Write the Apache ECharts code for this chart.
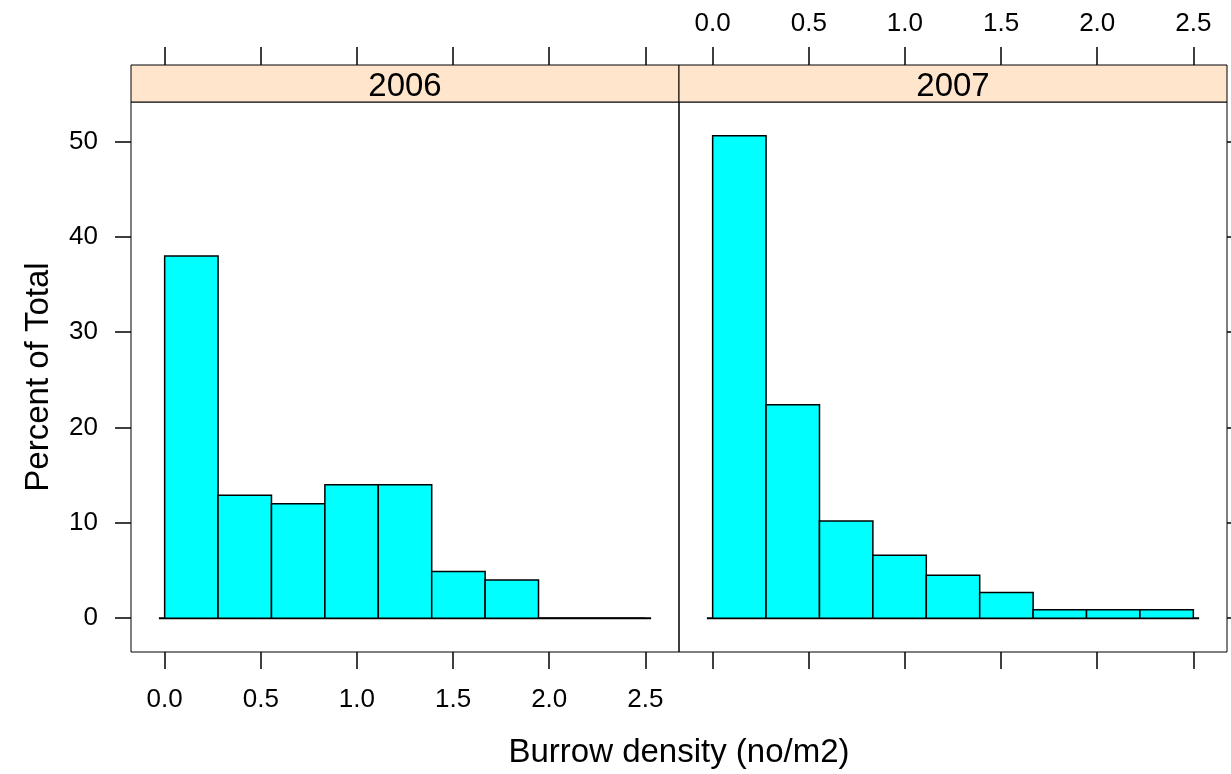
<!DOCTYPE html>
<html>
<head>
<meta charset="utf-8">
<script src="https://cdn.jsdelivr.net/npm/echarts@6/dist/echarts.min.js"></script>
<style>html,body{margin:0;padding:0;background:#fff;}#chart{width:1231px;height:774px;}</style>
</head>
<body>
<div id="chart"></div>
<script>
// ---- data ----
const panels = ['2006', '2007'];
const binEdges = [0, 0.2778, 0.5556, 0.8333, 1.1111, 1.3889, 1.6667, 1.9444, 2.2222, 2.5];
const pct2006 = [38.0, 12.9, 12.0, 14.0, 14.0, 4.9, 4.0, 0, 0];
const pct2007 = [50.6, 22.4, 10.2, 6.6, 4.5, 2.7, 0.9, 0.9, 0.9];
const xTicks = [0, 0.5, 1.0, 1.5, 2.0, 2.5];
const yTicks = [0, 10, 20, 30, 40, 50];
const baseline = [-0.03, 2.53];
const xLabel = 'Burrow density (no/m2)';
const yLabel = 'Percent of Total';

// ---- layout ----
const FONT = '"Liberation Sans", Arial, Helvetica, sans-serif';
const P = [{left: 131, top: 102, width: 548, height: 550}, {left: 679, top: 102, width: 548, height: 550}];
const stripH = 37;
const xMin = -0.175, xMax = 2.675, yMin = -3.54, yMax = 54.14;

function binData(vals) {
  return vals.map((v, i) => [binEdges[i], binEdges[i + 1], v]);
}
function renderItem(params, api) {
  const x0 = api.value(0), x1 = api.value(1), y = api.value(2);
  const p0 = api.coord([x0, 0]);
  const p1 = api.coord([x1, y]);
  return {
    type: 'rect',
    shape: {x: p0[0], y: p1[1], width: p1[0] - p0[0], height: p0[1] - p1[1]},
    style: {fill: '#00FFFF', stroke: '#000', lineWidth: 1.5}
  };
}
const tickLbl = {fontFamily: FONT, fontSize: 26, color: '#000'};

const grids = P.map(p => ({left: p.left, top: p.top, width: p.width, height: p.height, show: true, borderColor: '#000', borderWidth: 1, backgroundColor: 'transparent'}));

const xAxes = [];
const yAxes = [];
P.forEach((p, i) => {
  // bottom
  xAxes.push({
    type: 'value', gridIndex: i, position: 'bottom', min: xMin, max: xMax,
    axisLine: {show: false, onZero: false}, splitLine: {show: false},
    axisTick: {show: true, inside: false, length: 17, customValues: xTicks, lineStyle: {color: '#000', width: 1.5}},
    axisLabel: Object.assign({show: i === 0, margin: 35, customValues: xTicks, formatter: v => v.toFixed(1)}, tickLbl)
  });
  // top (above strip)
  xAxes.push({
    type: 'value', gridIndex: i, position: 'top', offset: stripH, min: xMin, max: xMax,
    axisLine: {show: false, onZero: false}, splitLine: {show: false},
    axisTick: {show: true, inside: false, length: 18, customValues: xTicks, lineStyle: {color: '#000', width: 1.5}},
    axisLabel: Object.assign({show: i === 1, margin: 28, customValues: xTicks, formatter: v => v.toFixed(1)}, tickLbl)
  });
  yAxes.push({
    type: 'value', gridIndex: i, position: i === 0 ? 'left' : 'right', min: yMin, max: yMax,
    axisLine: {show: false, onZero: false}, splitLine: {show: false},
    axisTick: {show: true, inside: false, length: 16, customValues: yTicks, lineStyle: {color: '#000', width: 1.5}},
    axisLabel: Object.assign({show: i === 0, margin: 33, customValues: yTicks}, tickLbl),
    name: i === 0 ? yLabel : '', nameLocation: 'middle', nameRotate: 90, nameGap: 76,
    nameTextStyle: {fontFamily: FONT, fontSize: 33, color: '#000'}
  });
});

const series = [];
[pct2006, pct2007].forEach((vals, i) => {
  series.push({
    type: 'line', xAxisIndex: i * 2, yAxisIndex: i, data: [[baseline[0], 0], [baseline[1], 0]],
    symbol: 'none', lineStyle: {color: '#000', width: 2}, silent: true, z: 1
  });
  series.push({
    type: 'custom', xAxisIndex: i * 2, yAxisIndex: i, renderItem: renderItem,
    data: binData(vals), encode: {x: [0, 1], y: 2}, z: 2
  });
});

const graphics = [];
P.forEach((p, i) => {
  graphics.push({
    type: 'rect', shape: {x: p.left, y: p.top - stripH, width: p.width, height: stripH},
    style: {fill: '#FFE5CC', stroke: '#000', lineWidth: 1}, z: 10
  });
  graphics.push({
    type: 'text', x: p.left + p.width / 2, y: p.top - stripH / 2 + 3,
    style: {text: panels[i], fontFamily: FONT, fontSize: 33, fill: '#000', textAlign: 'center', textVerticalAlign: 'middle'}, z: 11
  });
});
graphics.push({
  type: 'text', x: P[0].left + (P[0].width + P[1].width) / 2, y: 753,
  style: {text: xLabel, fontFamily: FONT, fontSize: 33, fill: '#000', textAlign: 'center', textVerticalAlign: 'middle'}, z: 11
});

const chart = echarts.init(document.getElementById('chart'), null, {renderer: 'canvas'});
chart.setOption({
  animation: false,
  backgroundColor: '#fff',
  grid: grids,
  xAxis: xAxes,
  yAxis: yAxes,
  series: series,
  graphic: graphics
});
</script>
</body>
</html>
